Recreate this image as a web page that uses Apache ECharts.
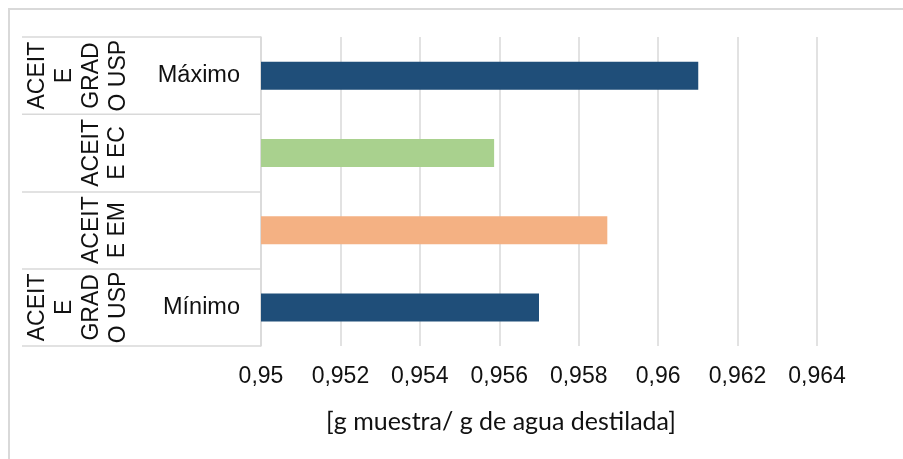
<!DOCTYPE html>
<html>
<head>
<meta charset="utf-8">
<script src="https://cdn.jsdelivr.net/npm/echarts@6/dist/echarts.min.js"></script>
<style>
  html, body { margin: 0; padding: 0; background: #fff; }
  #frame { position: absolute; left: 8px; top: 8px; width: 1000px; height: 1000px; border-left: 2px solid #d9d9d9; border-top: 2px solid #d9d9d9; box-sizing: border-box; }
  #chart { position: absolute; left: 0; top: 0; width: 903px; height: 459px; }
</style>
</head>
<body>
<div id="frame"></div>
<div id="chart"></div>
<script>
// Categories listed bottom to top (category axis on y starts at the bottom)
const innerLabels = ['Mínimo', '', '', 'Máximo'];
const outerLabelsUSP = ['ACEIT\nE\nGRAD\nO USP', '', '', 'ACEIT\nE\nGRAD\nO USP'];
const outerLabelsOil = ['', 'ACEIT\nE EM', 'ACEIT\nE EC', ''];
const values = [0.957, 0.95872, 0.95587, 0.96101];
const barColors = ['#1f4e79', '#f4b183', '#a9d18e', '#1f4e79'];
const xTicks = { min: 0.95, max: 0.964, interval: 0.002 };
const xTitle = '[g muestra/ g de agua destilada]';

const chart = echarts.init(document.getElementById('chart'), null, { renderer: 'canvas' });
const gridLine = '#d9d9d9';
const font = '"Liberation Sans", Arial, sans-serif';

chart.setOption({
  animation: false,
  backgroundColor: 'transparent',
  grid: { left: 261, top: 37, right: 86, bottom: 113, containLabel: false },
  xAxis: {
    type: 'value',
    min: xTicks.min, max: xTicks.max, interval: xTicks.interval,
    axisLine: { show: false },
    axisTick: { show: false },
    splitLine: { show: true, lineStyle: { color: gridLine, width: 1.5 } },
    axisLabel: {
      margin: 19, fontSize: 23, color: '#111', fontFamily: font,
      formatter: v => String(+v.toFixed(3)).replace('.', ',')
    },
    name: xTitle,
    nameLocation: 'middle',
    nameGap: 76,
    nameTextStyle: {
      fontSize: 25, color: '#111', fontFamily: 'Lato, "Open Sans", sans-serif',
      verticalAlign: 'middle', padding: [0, 76, 0, 0]
    }
  },
  yAxis: [
    {
      type: 'category', data: innerLabels, position: 'left',
      axisLine: { show: true, lineStyle: { color: gridLine, width: 1.5 } },
      axisTick: { show: true, length: 239, lineStyle: { color: gridLine, width: 1.5 } },
      splitLine: { show: false },
      axisLabel: { interval: 0, margin: 21, fontSize: 23.5, color: '#111', fontFamily: font }
    },
    {
      type: 'category', data: outerLabelsUSP, position: 'left', offset: 0,
      axisLine: { show: false }, axisTick: { show: false }, splitLine: { show: false },
      axisLabel: {
        interval: 0, rotate: 90, margin: 183, align: 'center', verticalAlign: 'middle',
        fontSize: 23, lineHeight: 27, color: '#111', fontFamily: font
      }
    },
    {
      type: 'category', data: outerLabelsOil, position: 'left', offset: 0,
      axisLine: { show: false }, axisTick: { show: false }, splitLine: { show: false },
      axisLabel: {
        interval: 0, rotate: 90, margin: 156, align: 'center', verticalAlign: 'middle',
        fontSize: 23, lineHeight: 26, color: '#111', fontFamily: font
      }
    }
  ],
  series: [{
    type: 'bar',
    yAxisIndex: 0,
    barWidth: 28,
    data: values.map((v, i) => ({ value: v, itemStyle: { color: barColors[i] } }))
  }]
});
</script>
</body>
</html>
